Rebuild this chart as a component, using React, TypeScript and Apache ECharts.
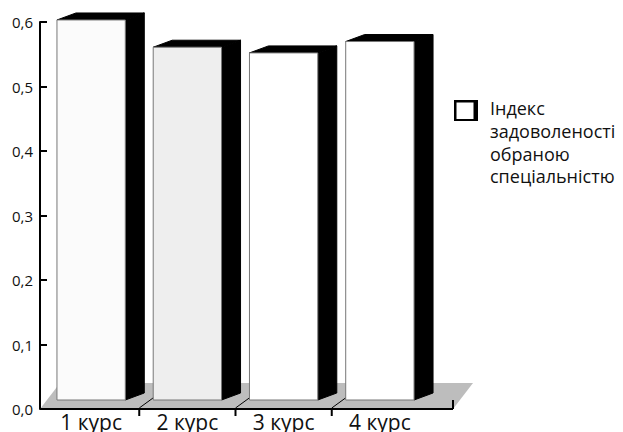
import React, { useEffect, useRef } from "react";
import * as echarts from "echarts";

const categories = ["1 курс", "2 курс", "3 курс", "4 курс"];
const values = [0.6, 0.557, 0.548, 0.566];
const frontColors = ["#fbfbfb", "#eeeeee", "#ffffff", "#ffffff"];
const legendLines = ["Індекс", "задоволеності", "обраною", "спеціальністю"];
const FONT = "'Open Sans', 'Noto Sans', sans-serif";

export default function App() {
  const ref = useRef<HTMLDivElement>(null);

  useEffect(() => {
    const chart = echarts.init(ref.current as HTMLDivElement, null, { renderer: "svg" });
    const DX = 19;
    const DY = -7;
    const FDX = 20;
    const FDY = -26;

    const floorRender = (params: any, api: any) => {
      const cs = params.coordSys;
      const yb = cs.y + cs.height;
      const x0 = cs.x - 3;
      const x1 = cs.x + cs.width + 25;
      const band = api.size([1, 0])[0];
      const children: any[] = [
        {
          type: "polygon",
          shape: { points: [[x0, yb], [x1, yb], [x1 + FDX, yb + FDY], [x0 + FDX, yb + FDY]] },
          style: { fill: "#bdbdbd" },
        },
      ];
      for (let i = 1; i < categories.length; i++) {
        const bx = api.coord([i, 0])[0] - band / 2;
        children.push({
          type: "line",
          shape: { x1: bx, y1: yb - 1, x2: bx + 22, y2: yb - 17 },
          style: { stroke: "#000", lineWidth: 1 },
        });
        children.push({
          type: "line",
          shape: { x1: bx, y1: yb, x2: bx, y2: yb + 7 },
          style: { stroke: "#000", lineWidth: 2 },
        });
      }
      children.push({
        type: "line",
        shape: { x1: x0, y1: yb, x2: x1, y2: yb },
        style: { stroke: "#000", lineWidth: 2 },
      });
      children.push({
        type: "line",
        shape: { x1: x1, y1: yb, x2: x1, y2: yb - 9 },
        style: { stroke: "#000", lineWidth: 2 },
      });
      return { type: "group", children };
    };

    const barRender = (params: any, api: any) => {
      const i = api.value(0);
      const v = api.value(1);
      const c = api.coord([i, v]);
      const c0 = api.coord([i, 0]);
      const bw = api.size([1, 0])[0] * 0.71;
      const h = (c0[1] - c[1]) * (381 / 388);
      const yb = c0[1] - 9;
      const yt = yb - h;
      const xl = c[0] - bw / 2;
      const xr = xl + bw;
      return {
        type: "group",
        children: [
          {
            type: "polygon",
            shape: { points: [[xl, yt], [xr, yt], [xr + DX, yt + DY], [xl + DX, yt + DY]] },
            style: { fill: "#000", stroke: "#000", lineWidth: 1 },
          },
          {
            type: "polygon",
            shape: { points: [[xr, yt], [xr + DX, yt + DY], [xr + DX, yb + DY], [xr, yb]] },
            style: { fill: "#000", stroke: "#000", lineWidth: 1 },
          },
          {
            type: "rect",
            shape: { x: xl, y: yt, width: bw, height: h },
            style: { fill: frontColors[params.dataIndex], stroke: "#777", lineWidth: 1 },
          },
        ],
      };
    };

    const option: any = {
      animation: false,
      backgroundColor: "#fff",
      grid: { left: 43, right: 195, top: 22, bottom: 22 },
      xAxis: {
        type: "category",
        data: categories,
        axisLine: { show: false },
        axisTick: { show: false },
        axisLabel: { fontSize: 21, color: "#111", margin: 2, fontFamily: FONT },
      },
      yAxis: {
        type: "value",
        min: 0,
        max: 0.6,
        interval: 0.1,
        offset: 3,
        z: 5,
        splitLine: { show: false },
        axisLine: { show: true, lineStyle: { color: "#000", width: 2 } },
        axisTick: { show: true, inside: true, length: 7, lineStyle: { color: "#000", width: 2 } },
        axisLabel: {
          margin: 7,
          fontSize: 15,
          color: "#111",
          fontFamily: FONT,
          formatter: (val: number) => val.toFixed(1).replace(".", ","),
        },
      },
      series: [
        {
          type: "custom",
          name: "floor",
          z: 1,
          silent: true,
          renderItem: floorRender,
          data: [[0, 0]],
        },
        {
          type: "custom",
          name: legendLines.join(" "),
          z: 2,
          renderItem: barRender,
          data: values.map((v, i) => [i, v]),
        },
      ],
      graphic: [
        { type: "rect", shape: { x: 454, y: 100, width: 24, height: 21 }, style: { fill: "#000" } },
        { type: "rect", shape: { x: 456.5, y: 102.5, width: 17, height: 16.5 }, style: { fill: "#fff" } },
        {
          type: "text",
          x: 490,
          y: 97,
          style: {
            text: legendLines.join("\n"),
            fontSize: 18,
            lineHeight: 22.7,
            fontFamily: FONT,
            fill: "#111",
            verticalAlign: "top",
            align: "left",
          },
        },
      ],
    };

    chart.setOption(option);
    return () => chart.dispose();
  }, []);

  return (
    <div
      ref={ref}
      style={{ position: "fixed", left: 0, top: 0, width: 623, height: 432 }}
    />
  );
}
